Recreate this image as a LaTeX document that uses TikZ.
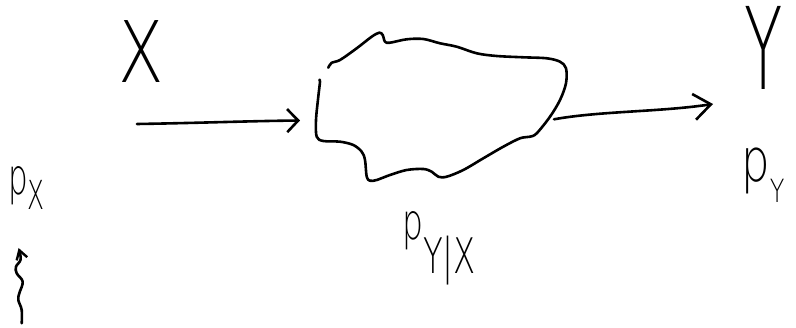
\documentclass[tikz,border=0pt]{standalone}
\usepackage{fontspec}
\usepackage{graphicx}
\newfontfamily\hand{DejaVu Sans ExtraLight}
\usetikzlibrary{arrows.meta}
\begin{document}
\begin{tikzpicture}[x=1pt,y=-1pt,
  hw/.style={line width=2.6pt, line cap=round, line join=round, black},
  txt/.style={inner sep=0pt, font=\hand},
  tipin/.style={-{Straight Barb[length=11pt,width=23pt,line width=2.6pt]}},
  tipout/.style={-{Straight Barb[length=17pt,width=26pt,line width=2.6pt]}},
  tipsq/.style={-{Straight Barb[length=9pt,width=11pt,line width=2.4pt]}}]
\useasboundingbox (0,0) rectangle (796,328);

% texts
\node[txt] (x) at (141,52) {\scalebox{0.78}[1]{\fontsize{85}{85}\selectfont X}};
\node[txt] (y) at (764,48) {\scalebox{0.55}[1]{\fontsize{114}{114}\selectfont Y}};
\node[txt, anchor=base west] (px) at (8,195)
  {\scalebox{0.62}[1]{\fontsize{50}{50}\selectfont p\raisebox{-15pt}{\fontsize{40}{40}\selectfont X}}};
\node[txt, anchor=base west] (py) at (741,182)
  {\scalebox{0.75}[1]{\fontsize{60}{60}\selectfont p\raisebox{-21pt}{\fontsize{32}{32}\selectfont Y}}};
\node[txt, anchor=base west] (pyx) at (402,240)
  {\scalebox{0.66}[1]{\fontsize{50}{50}\selectfont p\raisebox{-34pt}{\fontsize{49}{49}\selectfont Y|X}}};

% channel blob
\draw[hw] plot[smooth, tension=0.55] coordinates {
 (328.3,67.7) (331.7,62.7) (340,60) (356.7,48.3) (371.7,36.7) (379.3,32.7)
 (382.7,35) (385,41.7) (390,42.7) (406.7,39.3) (423.3,39) (440,43.3)
 (456.7,46.7) (476.7,53.3) (496.7,56) (523.3,57.3) (546.7,58.3) (560,61.7)
 (566,68.3) (566,83.3) (560,100) (550,116.7) (536.7,133.3) (530,136.7)
 (520,138.3) (503.3,146.7) (483.3,158.3) (463.3,170) (446.7,176.7)
 (438.3,176.7) (431.7,171.7) (423.3,169) (406.7,170) (390,175) (376.7,180)
 (370,180.7) (366.7,176.7) (365,160) (361.7,151.7) (353.3,145) (340,141.7)
 (323.3,141) (316.7,136.7) (316,120) (318.3,96.7) (320,81.7) (319.3,80)};

% connectors
\coordinate (in0) at (137,124);
\coordinate (in1) at (300,120.5);
\coordinate (out0) at (554,119.3);
\coordinate (out1) at (713,104);
\draw[hw, tipin] (in0) .. controls (200,123) and (250,121) .. (in1);
\draw[hw, tipout] (out0) .. controls (600,111) and (660,112) .. (out1);

% squiggly arrow under p_X
\draw[hw, tipsq] plot[smooth, tension=0.6] coordinates {
 (21.7,323.3) (21.7,310) (18.3,300) (19.3,293.3) (22.7,281.7) (16.7,273.3)
 (16,266.7) (20.7,259.3) (18.6,248)};
\end{tikzpicture}
\end{document}
